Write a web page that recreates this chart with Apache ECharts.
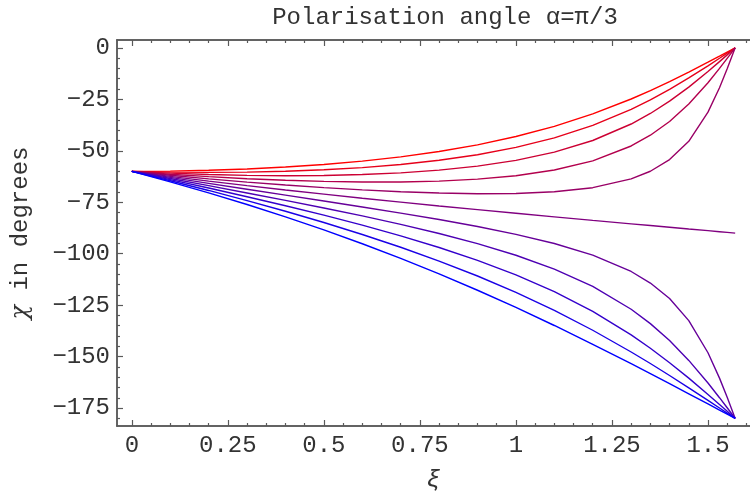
<!DOCTYPE html>
<html><head><meta charset="utf-8">
<script src="https://cdn.jsdelivr.net/npm/echarts@6/dist/echarts.min.js"></script>
<style>html,body{margin:0;padding:0;background:#fff}#c{width:750px;height:498px}</style>
</head><body><div id="c"></div>
<script>
// xi values (radians) at which the curves were read
const xi = [0, 0.1, 0.2, 0.3, 0.4, 0.5, 0.6, 0.7, 0.8, 0.9, 1.0, 1.1, 1.2, 1.3, 1.35, 1.4, 1.45, 1.5, 1.53, 1.55, 1.5708];
// chi (degrees), eleven curves from red (top) to blue (bottom)
const chi0  = [-60, -59.88, -59.50, -58.86, -57.92, -56.66, -55.03, -52.95, -50.36, -47.12, -43.10, -38.16, -32.12, -24.86, -20.78, -16.42, -11.80, -6.99, -4.04, -2.06, 0];
const chi1  = [-60, -60.38, -60.51, -60.38, -59.97, -59.26, -58.18, -56.67, -54.64, -51.93, -48.37, -43.72, -37.65, -29.86, -25.24, -20.14, -14.61, -8.73, -5.05, -2.58, 0];
const chi2  = [-60, -60.88, -61.53, -61.95, -62.11, -62.00, -61.56, -60.74, -59.42, -57.47, -54.67, -50.68, -45.02, -37.01, -31.89, -25.92, -19.10, -11.54, -6.71, -3.43, 0];
const chi3  = [-60, -61.39, -62.58, -63.57, -64.34, -64.89, -65.18, -65.15, -64.73, -63.79, -62.12, -59.37, -54.92, -47.68, -42.46, -35.77, -27.31, -16.97, -10.01, -5.14, 0];
const chi4  = [-60, -61.90, -63.64, -65.23, -66.66, -67.92, -69.02, -69.91, -70.55, -70.87, -70.75, -69.93, -67.94, -63.68, -59.95, -54.29, -45.40, -31.24, -19.41, -10.20, 0];
const chi5  = [-60, -62.42, -64.73, -66.94, -69.06, -71.09, -73.06, -74.96, -76.82, -78.62, -80.39, -82.11, -83.82, -85.50, -86.34, -87.17, -88.00, -88.82, -89.32, -89.65, -90];
const chi6  = [-60, -62.95, -65.84, -68.70, -71.54, -74.39, -77.29, -80.28, -83.42, -86.81, -90.60, -95.05, -100.69, -108.64, -114.25, -121.80, -132.50, -148.12, -160.44, -169.78, -180];
const chi7  = [-60, -63.47, -66.96, -70.49, -74.09, -77.80, -81.66, -85.77, -90.20, -95.13, -100.77, -107.50, -115.91, -126.99, -133.97, -142.20, -151.83, -162.82, -169.95, -174.85, -180];
const chi8  = [-60, -64.01, -68.11, -72.33, -76.71, -81.29, -86.14, -91.33, -96.98, -103.24, -110.31, -118.46, -128.05, -139.45, -145.94, -152.96, -160.45, -168.36, -173.27, -176.56, -180];
const chi9  = [-60, -64.55, -69.28, -74.20, -79.38, -84.85, -90.66, -96.87, -103.57, -110.84, -118.81, -127.56, -137.19, -147.75, -153.35, -159.16, -165.14, -171.22, -174.94, -177.42, -180];
const chi10 = [-60, -65.09, -70.46, -76.12, -82.11, -88.45, -95.17, -102.28, -109.81, -117.76, -126.12, -134.88, -144.01, -153.44, -158.25, -163.12, -168.04, -172.98, -175.95, -177.94, -180];
const curves = [chi0, chi1, chi2, chi3, chi4, chi5, chi6, chi7, chi8, chi9, chi10];
const curveColors = ['rgb(255,0,0)','rgb(230,0,26)','rgb(204,0,51)','rgb(179,0,77)','rgb(153,0,102)','rgb(128,0,128)','rgb(102,0,153)','rgb(77,0,179)','rgb(51,0,204)','rgb(26,0,230)','rgb(0,0,255)'];
// tick positions
const xMajorTicks = [0, 0.25, 0.5, 0.75, 1, 1.25, 1.5];
const xMinorTicks = [0.05,0.1,0.15,0.2,0.3,0.35,0.4,0.45,0.55,0.6,0.65,0.7,0.8,0.85,0.9,0.95,1.05,1.1,1.15,1.2,1.3,1.35,1.4,1.45,1.55,1.6];
const yMajorTicks = [0, -25, -50, -75, -100, -125, -150, -175];
const yMinorTicks = [-5,-10,-15,-20,-30,-35,-40,-45,-55,-60,-65,-70,-80,-85,-90,-95,-105,-110,-115,-120,-130,-135,-140,-145,-155,-160,-165,-170,-180];
const titleText = 'Polarisation angle α=π/3';
const xName = 'ξ';
const yName = '{g|χ} in degrees';

const FONT = 'Liberation Mono';
const FS = 24;
const AX = '#5a5a5a';
const TXT = '#333';
const XMIN = -0.0386, XMAX = 1.6094, YMIN = -183.7, YMAX = 3.8;

function xAx(pos, ticks, len, labels, extra) {
  return Object.assign({
    type: 'value', min: XMIN, max: XMAX, position: pos,
    axisLine: {show: true, onZero: false, lineStyle: {color: AX, width: 1.5}},
    axisTick: {show: true, inside: true, length: len, customValues: ticks, lineStyle: {color: AX, width: 1.2}},
    axisLabel: labels ? {show: true, customValues: ticks, margin: 8, fontFamily: FONT, fontSize: FS, color: TXT} : {show: false},
    splitLine: {show: false}
  }, extra || {});
}
function yAx(ticks, len, labels, extra) {
  return Object.assign({
    type: 'value', min: YMIN, max: YMAX, position: 'left',
    axisLine: {show: true, onZero: false, lineStyle: {color: AX, width: 1.5}},
    axisTick: {show: true, inside: true, length: len, customValues: ticks, lineStyle: {color: AX, width: 1.2}},
    axisLabel: labels ? {show: true, customValues: ticks, margin: 7, fontFamily: FONT, fontSize: FS, color: TXT,
      formatter: v => v === 0 ? '0' : (v < 0 ? '\u2212' + Math.abs(v) : String(v))} : {show: false},
    splitLine: {show: false}
  }, extra || {});
}

const chart = echarts.init(document.getElementById('c'), null, {renderer: 'canvas'});
chart.setOption({
  animation: false,
  backgroundColor: '#fff',
  title: {text: titleText, left: 440, top: 1, textAlign: 'center',
    textStyle: {fontFamily: FONT, fontWeight: 'normal', fontSize: FS, color: TXT}},
  grid: {left: 117, top: 40, width: 641, height: 396},
  xAxis: [
    xAx('bottom', xMajorTicks, 6, true, {name: xName, nameLocation: 'middle', nameGap: 43,
      nameTextStyle: {fontFamily: FONT, fontSize: FS, color: TXT, fontStyle: 'italic'}}),
    xAx('bottom', xMinorTicks, 3, false),
    xAx('top', xMajorTicks, 6, false),
    xAx('top', xMinorTicks, 3, false)
  ],
  yAxis: [
    yAx(yMajorTicks, 6, true, {name: yName, nameLocation: 'middle', nameGap: 84, nameRotate: 90,
      nameTextStyle: {fontFamily: FONT, fontSize: FS, color: TXT,
        rich: {g: {fontFamily: 'DejaVu Serif', fontStyle: 'italic', fontSize: FS, color: TXT}}}}),
    yAx(yMinorTicks, 3, false)
  ],
  series: curves.map((c, i) => ({
    type: 'line', xAxisIndex: 0, yAxisIndex: 0,
    data: xi.map((x, j) => [x, c[j]]),
    showSymbol: false, smooth: false,
    lineStyle: {color: curveColors[i], width: 1.4},
    itemStyle: {color: curveColors[i]}
  }))
});
</script></body></html>
